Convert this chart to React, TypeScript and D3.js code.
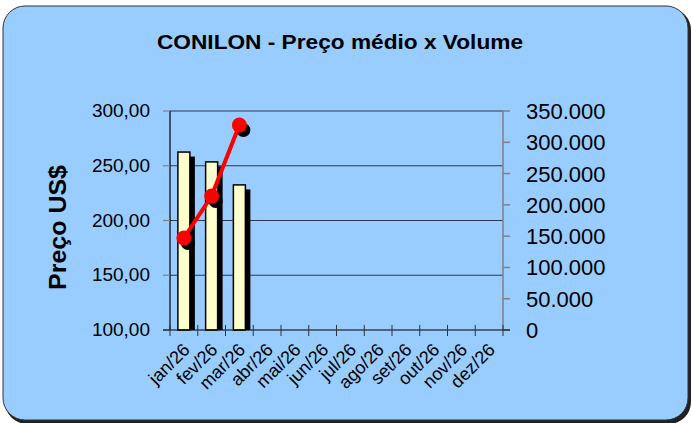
import React from "react";
import * as d3 from "d3";

const months = ["jan/26", "fev/26", "mar/26", "abr/26", "mai/26", "jun/26", "jul/26", "ago/26", "set/26", "out/26", "nov/26", "dez/26"];
const precos = [262.5, 253.5, 232.5];
const volumes = [147000, 214000, 327500];
const precoTicks = [100, 150, 200, 250, 300];
const volumeTicks = [0, 50000, 100000, 150000, 200000, 250000, 300000, 350000];

const W = 691;
const H = 423;
const plot = { left: 170, right: 503, top: 111, bottom: 330 };
const font = "'Liberation Sans', Arial, sans-serif";

const fmtPreco = (v: number) => d3.format(".2f")(v).replace(".", ",");
const fmtVol = (v: number) => d3.format(",")(v).replace(/,/g, ".");

export default function App() {
  const x = d3.scaleBand().domain(months).range([plot.left, plot.right]).paddingInner(0).paddingOuter(0);
  const yP = d3.scaleLinear().domain([100, 300]).range([plot.bottom, plot.top]);
  const yV = d3.scaleLinear().domain([0, 350000]).range([plot.bottom, plot.top]);
  const cx = (i: number) => (x(months[i]) as number) + x.bandwidth() / 2;
  const barW = 12;
  const sh = { dx: 5, dy: 4.5 };

  const linePts: [number, number][] = volumes.map((v, i) => [cx(i), yV(v)]);
  const line = d3.line();

  return (
    <svg width={W} height={H} style={{ position: "fixed", left: 0, top: 0, background: "#fff" }} fontFamily={font}>
      <rect x={5} y={8} width={686} height={416} rx={22} fill="#222" />
      <rect x={3} y={6} width={685} height={414} rx={22} fill="#99CCFF" stroke="#333" strokeWidth={1} />

      <text x={340} y={49} textAnchor="middle" fontSize={21} fontWeight="bold" fill="#000" textLength={366} lengthAdjust="spacingAndGlyphs">
        CONILON - Preço médio x Volume
      </text>

      {/* gridlines */}
      {precoTicks.slice(1).map(t => (
        <line key={t} x1={plot.left} x2={plot.right} y1={yP(t)} y2={yP(t)} stroke="#2b3a4a" strokeWidth={1} />
      ))}

      {/* price bars with shadow */}
      {precos.map((p, i) => (
        <g key={i}>
          <rect x={cx(i) - barW / 2 + sh.dx} y={yP(p) + sh.dy} width={barW} height={plot.bottom - yP(p) - sh.dy} fill="#000" />
          <rect x={cx(i) - barW / 2} y={yP(p)} width={barW} height={plot.bottom - yP(p)} fill="#FFFFCC" stroke="#000" strokeWidth={1.5} />
        </g>
      ))}

      {/* left axis */}
      <line x1={plot.left} x2={plot.left} y1={plot.top} y2={plot.bottom} stroke="#000" strokeWidth={1.2} />
      {precoTicks.map(t => (
        <g key={t}>
          <line x1={plot.left - 7} x2={plot.left} y1={yP(t)} y2={yP(t)} stroke="#808080" strokeWidth={1.2} />
          <text x={150} y={yP(t) + 6} textAnchor="end" fontSize={19} fill="#000">{fmtPreco(t)}</text>
        </g>
      ))}
      <text transform={`translate(66, ${(plot.top + plot.bottom) / 2 + 7}) rotate(-90)`} textAnchor="middle" fontSize={23} fontWeight="bold" fill="#000" textLength={125} lengthAdjust="spacingAndGlyphs">
        Preço US$
      </text>

      {/* right axis */}
      <line x1={plot.right} x2={plot.right} y1={plot.top} y2={plot.bottom} stroke="#808080" strokeWidth={1.5} />
      {volumeTicks.map(t => (
        <g key={t}>
          <line x1={plot.right} x2={plot.right + 7} y1={yV(t)} y2={yV(t)} stroke="#808080" strokeWidth={1.5} />
          <text x={526} y={yV(t) + 8} textAnchor="start" fontSize={22} fill="#000">{fmtVol(t)}</text>
        </g>
      ))}

      {/* x axis */}
      <line x1={plot.left - 7} x2={plot.right + 7} y1={plot.bottom} y2={plot.bottom} stroke="#000" strokeWidth={1.2} />
      {d3.range(months.length + 1).map(i => {
        const xx = plot.left + i * x.bandwidth();
        return <line key={i} x1={xx} x2={xx} y1={plot.bottom - 5} y2={plot.bottom + 6} stroke="#333" strokeWidth={1} />;
      })}
      {months.map((m, i) => (
        <text key={m} transform={`translate(${cx(i) - 2}, ${plot.bottom + 12}) rotate(-45)`} textAnchor="end" dy="0.7em" fontSize={18} fill="#000">
          {m}
        </text>
      ))}

      {/* volume line */}
      {linePts.map(([a, b], i) => <circle key={"s" + i} cx={a + 4} cy={b + 5} r={7} fill="#000" />)}
      <path d={line(linePts) as string} fill="none" stroke="#FF0000" strokeWidth={4} />
      {linePts.map(([a, b], i) => <circle key={"c" + i} cx={a} cy={b} r={7.5} fill="#FF0000" />)}
    </svg>
  );
}
